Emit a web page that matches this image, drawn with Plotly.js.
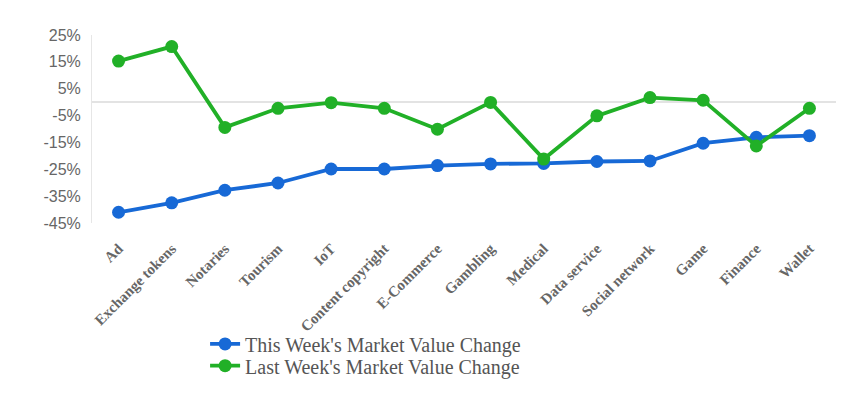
<!DOCTYPE html>
<html><head><meta charset="utf-8">
<script src="https://cdn.plot.ly/plotly-3.0.1.min.js"></script>
<style>html,body{margin:0;padding:0;background:#fff}#chart{width:859px;height:393px}</style>
</head><body><div id="chart"></div>
<script>
const categories = ["Ad","Exchange tokens","Notaries","Tourism","IoT","Content copyright","E-Commerce","Gambling","Medical","Data service","Social network","Game","Finance","Wallet"];
const thisWeek = [-41.0,-37.5,-32.8,-30.1,-24.9,-24.9,-23.6,-23.0,-22.8,-22.1,-21.9,-15.3,-13.1,-12.5];
const lastWeek = [15.3,20.7,-9.4,-2.3,-0.2,-2.3,-10.1,-0.1,-21.2,-5.1,1.7,0.7,-16.3,-2.3];
const tickVals = [-45,-35,-25,-15,-5,5,15,25];
const tickText = tickVals.map(v => v + "%");

const blue = "#1769d6", green = "#21b027";
const legendFont = {family: "Liberation Serif", size: 20, color: "#555"};
const traces = [
  {x: categories, y: thisWeek, name: "This Week's Market Value Change", type: "scatter", mode: "lines+markers",
   line: {color: blue, width: 3.8}, marker: {color: blue, size: 13}, legend: "legend"},
  {x: categories, y: lastWeek, name: "Last Week's Market Value Change", type: "scatter", mode: "lines+markers",
   line: {color: green, width: 3.8}, marker: {color: green, size: 13}, legend: "legend2"}
];
const layout = {
  width: 859, height: 393,
  margin: {l: 92, r: 23, t: 34.5, b: 169.5, autoexpand: false},
  paper_bgcolor: "#fff", plot_bgcolor: "#fff",
  showlegend: true,
  legend: {x: 0.152, y: -0.643, xanchor: "left", yanchor: "middle", bgcolor: "rgba(0,0,0,0)", font: legendFont},
  legend2: {x: 0.152, y: -0.759, xanchor: "left", yanchor: "middle", bgcolor: "rgba(0,0,0,0)", font: legendFont},
  xaxis: {type: "category", range: [-0.5, 13.5], showgrid: false, zeroline: false, showline: false, automargin: false,
    tickangle: -45, ticks: "", ticklabelstandoff: 13,
    tickfont: {family: "Liberation Serif", size: 15, color: "#666", weight: "bold"}},
  yaxis: {range: [-45, 25], tickvals: tickVals, ticktext: tickText, showgrid: false, automargin: false,
    zeroline: true, zerolinecolor: "#e3e3e3", zerolinewidth: 2,
    showline: true, linecolor: "#e6e6e6", linewidth: 1, ticks: "", ticklabelstandoff: 7,
    tickfont: {family: "Liberation Sans", size: 16, color: "#666"}}
};
Plotly.newPlot("chart", traces, layout, {displayModeBar: false, staticPlot: true});
</script></body></html>
